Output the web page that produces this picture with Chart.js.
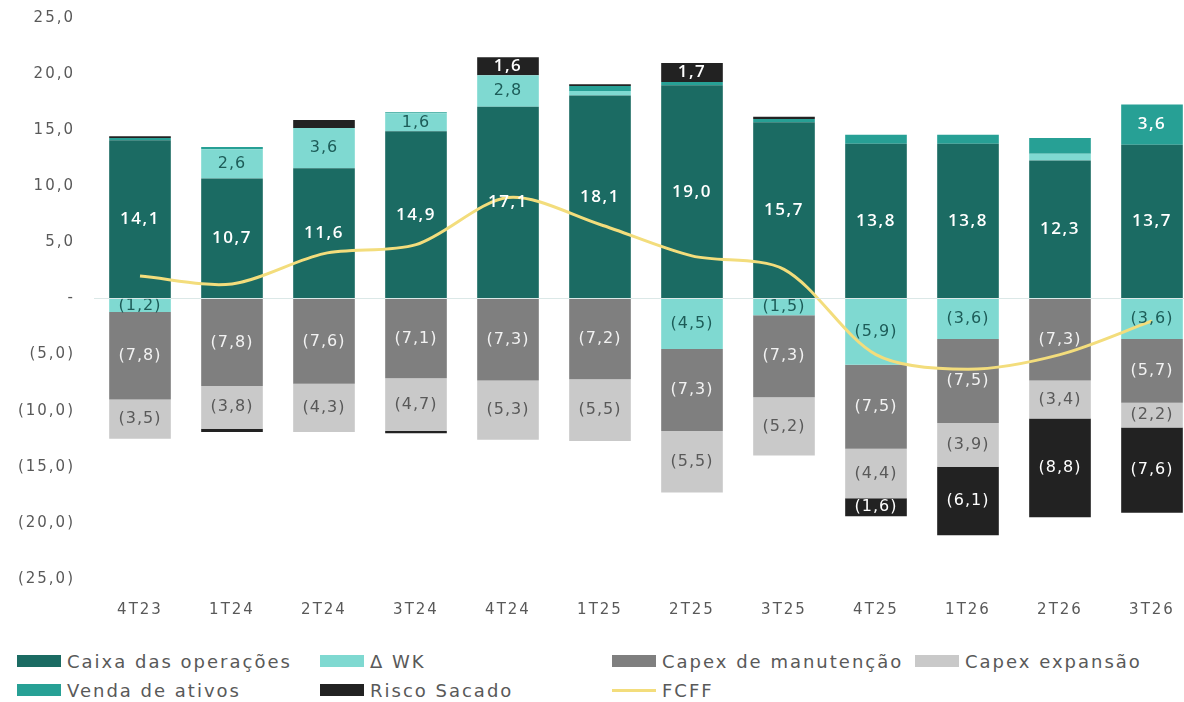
<!DOCTYPE html>
<html>
<head>
<meta charset="utf-8">
<script src="https://cdn.jsdelivr.net/npm/chart.js@4"></script>
<style>
  html, body { margin: 0; padding: 0; background: #fff; overflow: hidden; width: 1184px; height: 702px; }
  #wrap { position: absolute; left: 0; top: 0; width: 1200px; height: 641px; }
  #legend { position: absolute; left: 0; top: 646px; width: 1184px; height: 56px; font-family: "DejaVu Sans", sans-serif; font-size: 18px; letter-spacing: 2px; color: #595959; }
  .item { position: absolute; display: flex; align-items: center; height: 24px; white-space: nowrap; }
  .sw { display: inline-block; width: 44px; height: 12px; margin-right: 6px; }
  .ln { display: inline-block; width: 44px; height: 3px; margin-right: 6px; }
</style>
</head>
<body>
<div id="wrap"><canvas id="c"></canvas></div>
<div id="legend"></div>
<script>
const categories = ['4T23','1T24','2T24','3T24','4T24','1T25','2T25','3T25','4T25','1T26','2T26','3T26'];
const caixaOperacoes = [14.1, 10.7, 11.6, 14.9, 17.1, 18.1, 19.0, 15.7, 13.8, 13.8, 12.3, 13.7];
const deltaWK        = [-1.2, 2.6, 3.6, 1.6, 2.8, 0.4, -4.5, -1.5, -5.9, -3.6, 0.6, -3.6];
const capexManut     = [-7.8, -7.8, -7.6, -7.1, -7.3, -7.2, -7.3, -7.3, -7.5, -7.5, -7.3, -5.7];
const capexExpansao  = [-3.5, -3.8, -4.3, -4.7, -5.3, -5.5, -5.5, -5.2, -4.4, -3.9, -3.4, -2.2];
const vendaAtivos    = [0.2, 0.2, 0, 0.1, 0, 0.45, 0.3, 0.3, 0.8, 0.8, 1.4, 3.6];
const riscoSacado    = [0.15, -0.3, 0.7, -0.2, 1.6, 0.15, 1.7, 0.2, -1.6, -6.1, -8.8, -7.6];
const fcff           = [2.0, 1.3, 4.0, 4.8, 9.0, 6.6, 3.8, 2.6, -5.0, -6.3, -5.0, -2.0];
const yTicks = [-25, -20, -15, -10, -5, 0, 5, 10, 15, 20, 25];

const series = [
  { label: 'Caixa das operações', data: caixaOperacoes, color: '#1b6b63', text: '#ffffff', minLabel: 1 },
  { label: 'Δ WK', data: deltaWK, color: '#7fd9d1', text: '#1d5c58', minLabel: 1 },
  { label: 'Capex de manutenção', data: capexManut, color: '#7f7f7f', text: '#f2f2f2', minLabel: 1 },
  { label: 'Capex expansão', data: capexExpansao, color: '#c9c9c9', text: '#595959', minLabel: 1 },
  { label: 'Venda de ativos', data: vendaAtivos, color: '#27a095', text: '#ffffff', minLabel: 2 },
  { label: 'Risco Sacado', data: riscoSacado, color: '#222222', text: '#ffffff', minLabel: 1 }
];
const lineColor = '#f3dd7c';

function fmt(v) {
  const s = Math.abs(v).toFixed(1).replace('.', ',');
  return v < 0 ? '(' + s + ')' : s;
}

const spacingPlugin = {
  id: 'spacing',
  beforeDraw(chart) { chart.ctx.letterSpacing = '2px'; },
  beforeLayout(chart) { chart.ctx.letterSpacing = '2px'; }
};

const labelPlugin = {
  id: 'segLabels',
  afterDatasetsDraw(chart) {
    const ctx = chart.ctx;
    ctx.save();
    ctx.textAlign = 'center';
    ctx.textBaseline = 'middle';
    chart.data.datasets.forEach((ds, di) => {
      if (ds.type === 'line') return;
      const meta = chart.getDatasetMeta(di);
      meta.data.forEach((bar, i) => {
        const v = ds.data[i];
        if (Math.abs(v) < ds.minLabel) return;
        const p = bar.getProps(['x', 'y', 'base'], true);
        const strong = v > 0 && ds.labelColor === '#ffffff';
        if (strong) {
          ctx.letterSpacing = '1.5px';
          ctx.font = '600 17px "Open Sans", sans-serif';
        } else {
          ctx.letterSpacing = '1px';
          ctx.font = '16px "DejaVu Sans", sans-serif';
        }
        ctx.fillStyle = ds.labelColor;
        ctx.fillText(fmt(v), p.x, (p.y + p.base) / 2);
      });
    });
    ctx.restore();
  }
};

const datasets = series.map(s => ({
  type: 'bar',
  label: s.label,
  data: s.data,
  backgroundColor: s.color,
  labelColor: s.text,
  minLabel: s.minLabel,
  borderWidth: 0,
  categoryPercentage: 0.67,
  barPercentage: 1.0,
  order: 1
}));
datasets.push({
  type: 'line',
  label: 'FCFF',
  data: fcff,
  borderColor: lineColor,
  borderWidth: 3,
  pointRadius: 0,
  tension: 0.3,
  fill: false,
  order: 0
});

new Chart(document.getElementById('c'), {
  data: { labels: categories, datasets },
  options: {
    responsive: true,
    maintainAspectRatio: false,
    animation: false,
    layout: { padding: { top: 0, right: 2, left: 0, bottom: 0 } },
    plugins: { legend: { display: false }, tooltip: { enabled: false } },
    scales: {
      x: {
        stacked: true,
        grid: { display: false, drawTicks: false },
        border: { display: false },
        ticks: { color: '#595959', font: { family: 'DejaVu Sans', size: 15 }, padding: 22 }
      },
      y: {
        stacked: true,
        min: -25, max: 25,
        afterBuildTicks: (scale) => { scale.ticks = yTicks.map(v => ({ value: v })); },
        afterFit: (scale) => { scale.width = 94; scale.paddingTop = 18; scale.paddingBottom = 0; },
        grid: { z: 1, color: (c) => c.tick && c.tick.value === 0 ? 'rgba(215,230,228,0.9)' : 'rgba(0,0,0,0)', drawTicks: false },
        border: { display: false },
        ticks: {
          color: '#595959',
          font: { family: 'DejaVu Sans', size: 15 },
          padding: 19,
          callback: (v) => v === 0 ? '-' : fmt(v)
        }
      }
    }
  },
  plugins: [spacingPlugin, labelPlugin]
});

// HTML legend built from the series
const legendCols = [17, 320, 612, 915];
const legendRows = [3, 32];
const lg = document.getElementById('legend');
const allItems = series.map(s => ({ label: s.label, color: s.color, line: false }))
  .concat([{ label: 'FCFF', color: lineColor, line: true }]);
allItems.forEach((it, idx) => {
  const d = document.createElement('div');
  d.className = 'item';
  d.style.left = legendCols[idx % 4] + 'px';
  d.style.top = legendRows[Math.floor(idx / 4)] + 'px';
  const sw = document.createElement('span');
  sw.className = it.line ? 'ln' : 'sw';
  sw.style.background = it.color;
  d.appendChild(sw);
  d.appendChild(document.createTextNode(it.label));
  lg.appendChild(d);
});
</script>
</body>
</html>
